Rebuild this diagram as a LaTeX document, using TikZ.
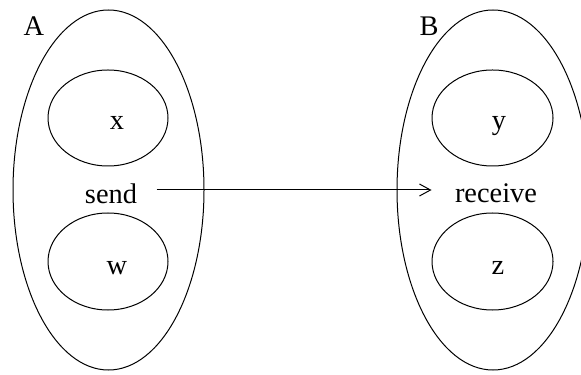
\documentclass[tikz,border=0pt]{standalone}
\usepackage{fontspec}
\setmainfont{Liberation Serif}
\usetikzlibrary{arrows.meta}

\begin{document}
\begin{tikzpicture}[x=0.5pt,y=0.5pt,line width=0.5pt,
    lbl/.style={inner sep=0pt,font=\fontsize{14.2}{17}\selectfont}]

        \useasboundingbox (0,0) rectangle (581,374);

        % the two processes
        \draw (108.5,184) ellipse [x radius=95.5,y radius=180];
        \draw (493,184) ellipse [x radius=96,y radius=180];
        \node[lbl] (A) at (34,348) {A};
        \node[lbl] (B) at (429,348) {B};

        % inner parts
        \draw (108,256) ellipse [x radius=60,y radius=48];
        \draw (108,112.5) ellipse [x radius=60,y radius=48.5];
        \draw (492.5,256) ellipse [x radius=60.5,y radius=48];
        \draw (492.5,112.5) ellipse [x radius=60.5,y radius=48.5];

        \node[lbl] (x) at (117,251) {x};
        \node[lbl] (w) at (117,106) {w};
        \node[lbl] (y) at (499,248) {y};
        \node[lbl] (z) at (498,106) {z};

        \node[lbl] (send) at (111,180.5) {send};
        \node[lbl] (receive) at (496,180.5) {receive};

        \draw[-{Straight Barb[length=5.5pt,width=6pt]},shorten <=9.5pt,shorten >=11.5pt]
            ([yshift=1.75pt]send.east) -- ([yshift=1.75pt]receive.west);

\end{tikzpicture}
\end{document}
